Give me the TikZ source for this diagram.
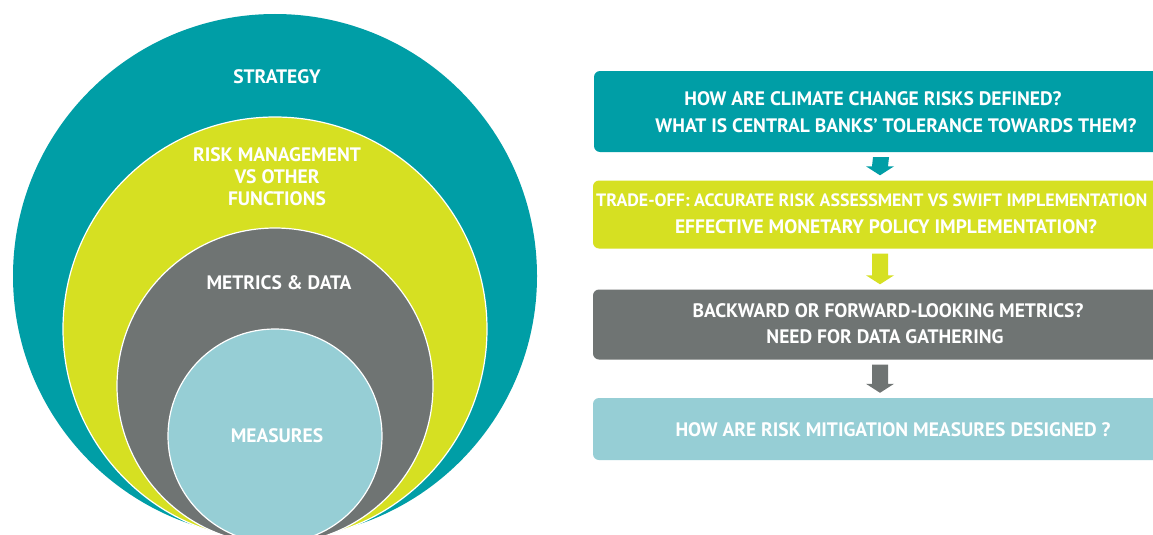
\documentclass[tikz,border=0pt]{standalone}
\usepackage{fontspec}
\setmainfont{PT Sans}
\usetikzlibrary{calc}
\definecolor{cteal}{RGB}{0,158,166}
\definecolor{cyel}{RGB}{214,224,34}
\definecolor{cgray}{RGB}{111,116,115}
\definecolor{clblue}{RGB}{150,206,213}
\tikzset{
  ring/.style={circle, inner sep=0pt, draw=white, line width=1.2pt},
  lbl/.style={text=white, font=\bfseries\fontsize{19.5}{21}\selectfont, inner sep=0pt, anchor=center},
  qbox/.style={rounded corners=6pt, minimum width=574pt, inner sep=0pt},
  qtxt/.style={text=white, font=\bfseries\fontsize{19.5}{21}\selectfont, inner sep=0pt, anchor=center},
}
\newcommand\myblockarrow[3]{%
  \fill[#1] ($(#2.south)+(-8,5)$) -- ($(#2.south)+(8,5)$) -- ($(#3.north)+(8,-14)$) -- ($(#3.north)+(14,-14)$) -- ($(#3.north)+(0,-5)$) -- ($(#3.north)+(-14,-14)$) -- ($(#3.north)+(-8,-14)$) -- cycle;}
\begin{document}
\begin{tikzpicture}[x=1pt,y=-1pt]
\path[use as bounding box] (0,0) rectangle (1153,535);
\clip (0,0) rectangle (1153,535);
\fill[white] (0,0) rectangle (1153,535);
% nested circles
\node[circle, inner sep=0pt, fill=cteal, minimum size=524pt] (strategy) at (275,276) {};
\node[ring, fill=cyel, minimum size=424pt] (riskm) at (275,329) {};
\node[ring, fill=cgray, minimum size=316pt] (metrics) at (275,386) {};
\node[ring, fill=clblue, minimum size=214pt] (measures) at (275,436) {};
\node[lbl] (tstrat) at (277,77) {STRATEGY};
\node[lbl] (trisk1) at (277,155) {RISK MANAGEMENT};
\node[lbl] (trisk2) at (277,177) {VS OTHER};
\node[lbl] (trisk3) at (277,199) {FUNCTIONS};
\node[lbl] (tmetr) at (279,283) {METRICS \& DATA};
\node[lbl] (tmeas) at (277,436) {MEASURES};
% question boxes
\node[qbox, fill=cteal, minimum height=81pt] (b1) at (881,111.5) {};
\node[qbox, fill=cyel, minimum height=68pt] (b2) at (880,214.5) {};
\node[qbox, fill=cgray, minimum height=70pt] (b3) at (880,324.5) {};
\node[qbox, fill=clblue, minimum height=62pt] (b4) at (880,429) {};
\node[qtxt] (q1a) at (873,99) {HOW ARE CLIMATE CHANGE RISKS DEFINED?};
\node[qtxt] (q1b) at (896,126) {WHAT IS CENTRAL BANKS’ TOLERANCE TOWARDS THEM?};
\node[qtxt, anchor=west, font=\bfseries\fontsize{17.9}{20}\selectfont] (q2a) at (596,200) {TRADE-OFF: ACCURATE RISK ASSESSMENT VS SWIFT IMPLEMENTATION};
\node[qtxt] (q2b) at (886,227) {EFFECTIVE MONETARY POLICY IMPLEMENTATION?};
\node[qtxt] (q3a) at (888,311) {BACKWARD OR FORWARD-LOOKING METRICS?};
\node[qtxt] (q3b) at (885,337) {NEED FOR DATA GATHERING};
\node[qtxt] (q4) at (893,430) {HOW ARE RISK MITIGATION MEASURES DESIGNED ?};
% arrows
\myblockarrow{cteal}{b1}{b2}
\myblockarrow{cyel}{b2}{b3}
\myblockarrow{cgray}{b3}{b4}
\end{tikzpicture}
\end{document}
